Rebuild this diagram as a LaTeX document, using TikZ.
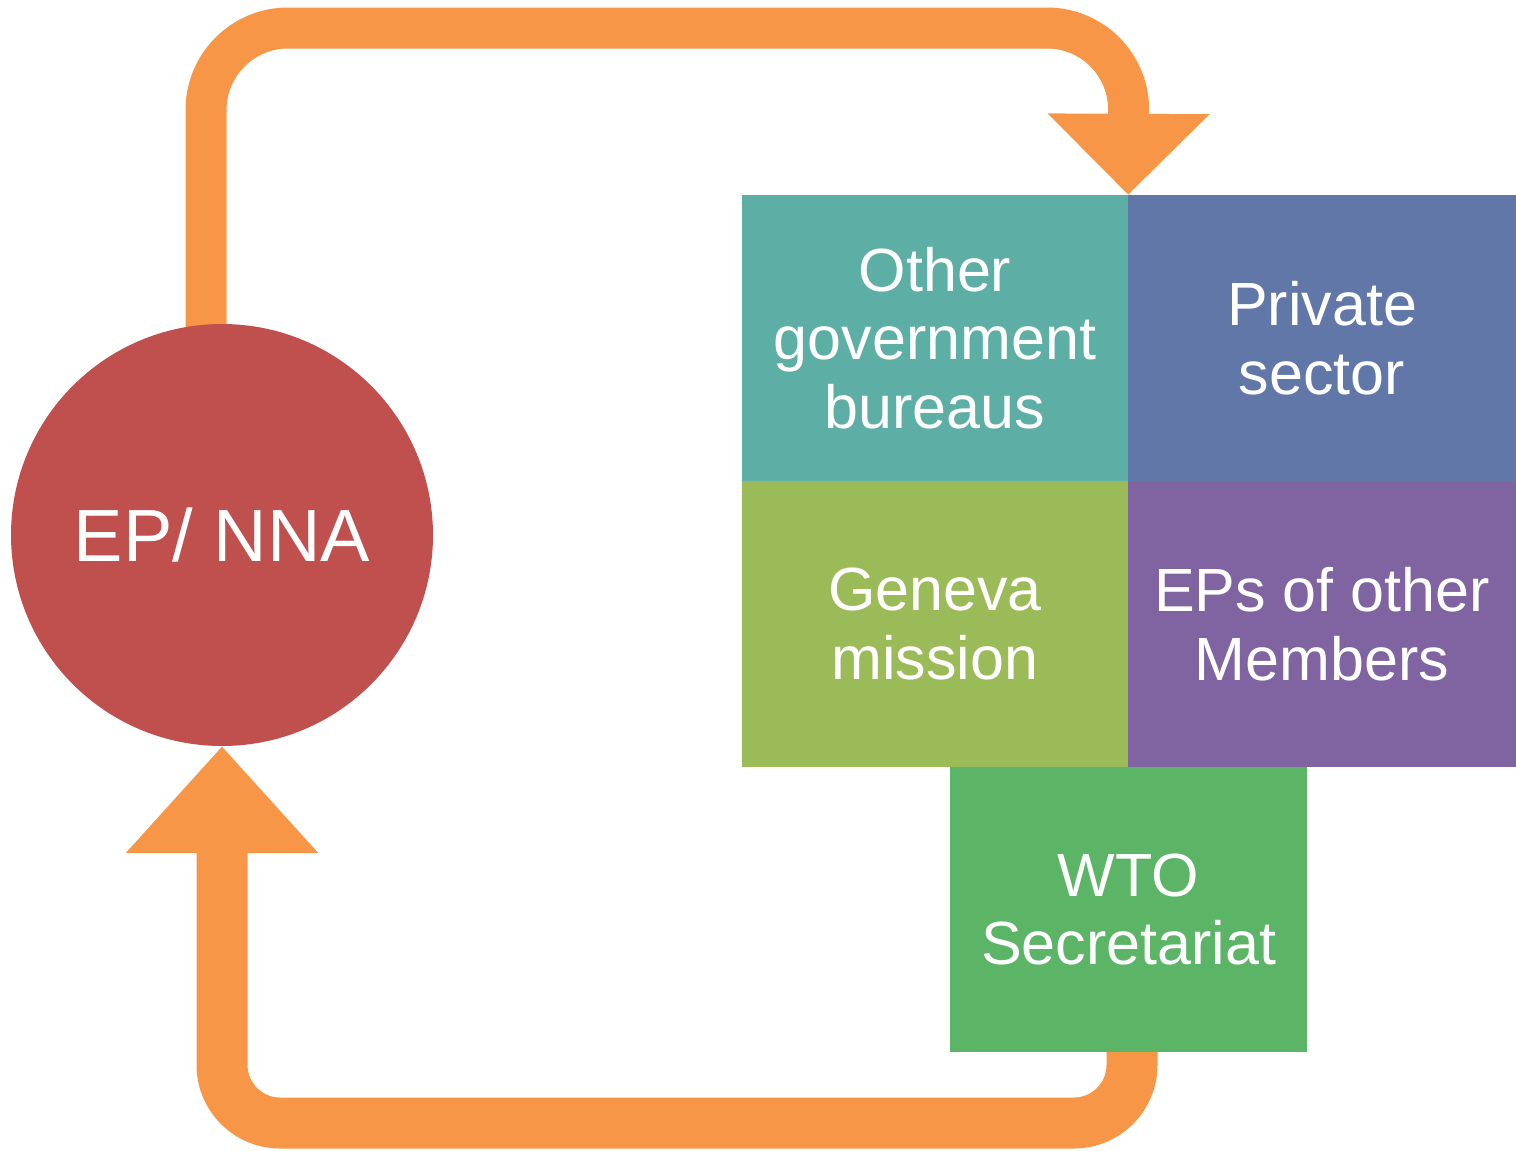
\documentclass[tikz,border=0pt]{standalone}
\usepackage{fontspec}
\setmainfont{Liberation Sans}
\usetikzlibrary{arrows.meta,backgrounds}
\definecolor{flowc}{HTML}{F79646}
\definecolor{epc}{HTML}{C0504D}
\definecolor{tealc}{HTML}{5DAEA5}
\definecolor{bluec}{HTML}{6077A7}
\definecolor{olivec}{HTML}{9BBB59}
\definecolor{purplec}{HTML}{8064A2}
\definecolor{wtoc}{HTML}{5CB567}
\tikzset{
  flowtop/.style={draw=flowc, line width=41pt, rounded corners=82pt,
    -{Triangle[width=157pt,length=81pt]}},
  flowbot/.style={draw=flowc, line width=51pt, rounded corners=58pt,
    -{Triangle[width=186pt,length=107pt]}},
  boxc/.style={rectangle, inner sep=0pt, minimum width=386pt, minimum height=286pt,
    text=white, align=center, font=\fontsize{61}{68.5}\selectfont},
  epnode/.style={circle, fill=epc, inner sep=0pt, minimum size=422pt, text=white,
    font=\fontsize{74}{80}\selectfont, text height=53pt, text depth=0pt}
}
\begin{document}
\begin{tikzpicture}[x=1pt,y=-1pt]
\useasboundingbox (0,0) rectangle (1516,1151);
\node[epnode] (ep) at (222,535) {EP/ NNA};
\node[boxc, fill=tealc] (gov) at (935,338) {Other\\government\\bureaus};
\node[boxc, fill=bluec, minimum width=388pt] (priv) at (1322,338) {Private\\sector};
\node[boxc, fill=olivec] (gen) at (935,624) {Geneva\\mission};
\node[boxc, fill=purplec, minimum width=388pt] (eps) at (1322,624) {EPs of other\\Members};
\node[boxc, fill=wtoc, minimum width=357pt, minimum height=285pt] (wto) at (1128.5,909.5) {WTO\\Secretariat};
\coordinate (t1) at (206,28);
\coordinate (t2) at (1129,28);
\coordinate (b1) at (1132,1123);
\coordinate (b2) at (ep.south |- b1);
\begin{pgfonlayer}{background}
\draw[flowtop] (t1 |- ep.center) -- (t1) -- (t2) -- (gov.north east);
\draw[flowbot] (wto.south -| b1) -- (b1) -- (b2) -- (ep.south);
\end{pgfonlayer}
\end{tikzpicture}
\end{document}
